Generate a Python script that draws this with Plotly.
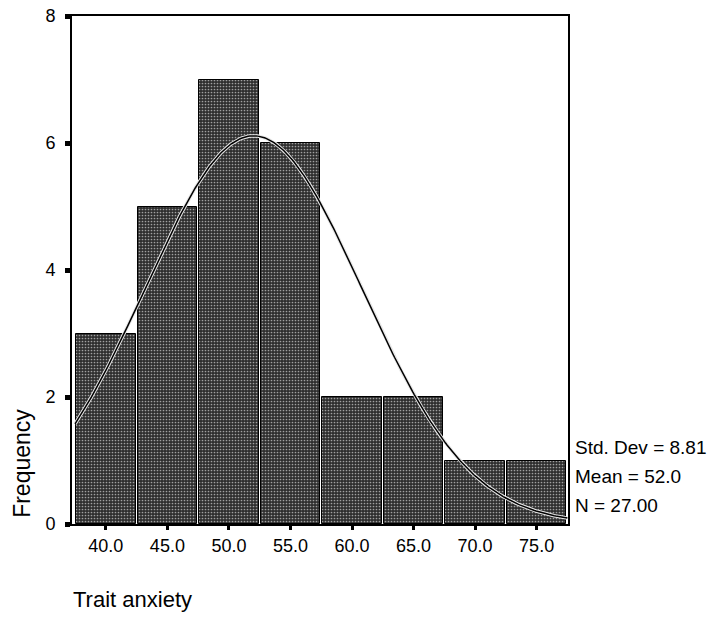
import numpy as np
import plotly.graph_objects as go

# Data
bin_centers = [40.0, 45.0, 50.0, 55.0, 60.0, 65.0, 70.0, 75.0]
frequencies = [3, 5, 7, 6, 2, 2, 1, 1]
bin_width = 5.0
std_dev = 8.81
mean = 52.0
n_total = 27
x_tick_labels = ["40.0", "45.0", "50.0", "55.0", "60.0", "65.0", "70.0", "75.0"]
y_ticks = [0, 2, 4, 6, 8]
stats_lines = ["Std. Dev = 8.81", "Mean = 52.0", "N = 27.00"]

# Fitted normal curve from the displayed statistics
x_lo = bin_centers[0] - bin_width / 2
x_hi = bin_centers[-1] + bin_width / 2
xc = np.linspace(x_lo, x_hi, 300)
yc = n_total * bin_width / (std_dev * np.sqrt(2 * np.pi)) * np.exp(-0.5 * ((xc - mean) / std_dev) ** 2)

FONT = "Liberation Sans, Arial, sans-serif"

fig = go.Figure()
fig.add_trace(go.Bar(
    x=bin_centers, y=frequencies, width=bin_width * 0.97,
    marker=dict(color="#3a3a3a", line=dict(color="black", width=1),
                pattern=dict(shape=".", fgcolor="#a0a0a0", bgcolor="#2e2e2e",
                             size=3, solidity=0.25, fillmode="replace")),
    showlegend=False, hoverinfo="skip",
))
fig.add_trace(go.Scatter(x=xc, y=yc, mode="lines", line=dict(color="#e8e8e8", width=3.5),
                         showlegend=False, hoverinfo="skip"))
fig.add_trace(go.Scatter(x=xc, y=yc, mode="lines", line=dict(color="black", width=1.5),
                         showlegend=False, hoverinfo="skip"))

fig.update_layout(
    width=713, height=617,
    margin=dict(l=72, r=145, t=16, b=93, autoexpand=False),
    plot_bgcolor="white", paper_bgcolor="white",
    bargap=0,
    font=dict(family=FONT, size=18, color="black"),
    xaxis=dict(range=[x_lo - 0.25, x_hi + 0.05], tickvals=bin_centers, ticktext=x_tick_labels,
               ticks="outside", ticklen=4, tickwidth=3, tickcolor="black",
               showline=True, linecolor="black", linewidth=2, mirror=True, automargin=False,
               showgrid=False, zeroline=False, tickfont=dict(size=18)),
    yaxis=dict(range=[0, 8], tickvals=y_ticks, ticks="outside", ticklen=5, tickwidth=5,
               tickcolor="black", showline=True, linecolor="black", linewidth=2, mirror=True,
               automargin=False, showgrid=False, zeroline=False, tickfont=dict(size=18),
               ticklabelstandoff=6),
)

# Axis titles (SPSS-style placement)
fig.add_annotation(text="Frequency", xref="paper", yref="paper", x=-0.1, y=0.008,
                   xanchor="center", yanchor="bottom", textangle=-90, showarrow=False,
                   font=dict(size=23))
fig.add_annotation(text="Trait anxiety", xref="paper", yref="paper", x=-0.002, y=-0.149,
                   xanchor="left", yanchor="middle", showarrow=False, font=dict(size=22))

stats_y = [447, 477, 505]
for s, py in zip(stats_lines, stats_y):
    fig.add_annotation(text=s, xref="paper", yref="paper", x=1.01, y=(524 - py) / 508,
                       xanchor="left", yanchor="middle", showarrow=False, font=dict(size=19))

fig.write_html("out.html", config={"displayModeBar": False},
               post_script="document.body.style.margin='0';")
